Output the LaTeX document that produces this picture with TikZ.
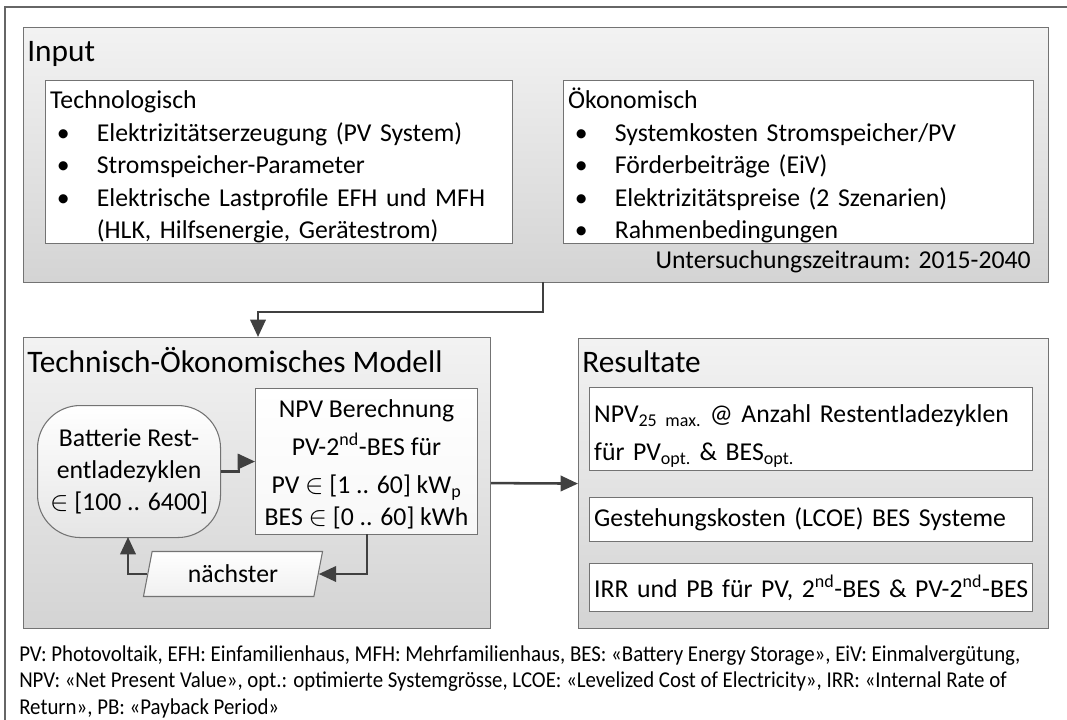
\documentclass[tikz,border=0pt]{standalone}
\usepackage{fontspec}
\setmainfont{Carlito}
\newfontfamily\notefont[FakeStretch=0.92]{Carlito}
\usepackage{tikz}
\usetikzlibrary{positioning,arrows.meta,shapes.geometric,calc}

\def\pxu{0.75pt}
\newcommand{\bul}{\hspace*{5pt}\makebox[30pt][l]{\textbullet}}
\newcommand{\topgap}[1]{\rule{0pt}{#1}}
\newcommand{\botgap}[1]{\rule[-#1]{0pt}{#1}}

\begin{document}
\begin{tikzpicture}[
    x=0.75pt, y=-0.75pt,
    >={Triangle[length=13pt,width=11.5pt]},
    flow/.style={->, draw=black!75, line width=1.9pt},
    group/.style={rectangle, draw=black!55, line width=0.9pt, top color=black!5, bottom color=black!17, anchor=north west, inner sep=0pt},
    grptitle/.style={anchor=base west, inner sep=0pt, font=\fontsize{23.5}{28}\selectfont},
    listbox/.style={rectangle, draw=black!55, line width=0.8pt, fill=white, anchor=north west, inner xsep=3.5pt, inner ysep=0pt, align=left, font=\fontsize{19.3}{24.4}\selectfont},
    calcbox/.style={rectangle, draw=black!55, line width=0.8pt, top color=white, bottom color=black!3, anchor=north west, inner sep=0pt, align=center, font=\fontsize{19.3}{24.4}\selectfont},
    loopbox/.style={rectangle, rounded corners=32pt, draw=black!55, line width=0.8pt, top color=white, bottom color=black!10, anchor=north west, inner sep=0pt, align=center, font=\fontsize{19.3}{24}\selectfont},
    iobox/.style={trapezium, trapezium left angle=75, trapezium right angle=105, trapezium stretches=true, draw=black!55, line width=0.8pt, top color=white, bottom color=black!6, inner sep=0pt, font=\fontsize{19.3}{24.4}\selectfont},
    body/.style={inner sep=0pt, font=\fontsize{19.3}{24.4}\selectfont}
]
\useasboundingbox (0,0) rectangle (1067,720);
% frame
\draw[black!60, line width=0.8pt] (1067,7) -- (5,7) -- (5,720);

% === Input ===
\node[group, minimum width=1025*\pxu, minimum height=255*\pxu] (input) at (23,27) {};
\node[grptitle] (inputtitle) at (27,62) {Input};
\node[listbox, minimum width=465*\pxu, minimum height=163*\pxu, text width=458*\pxu] (tech) at (45,80) {%
\topgap{21pt}Technologisch\\
\bul Elektrizitätserzeugung (PV System)\\
\bul Stromspeicher-Parameter\\
\bul Elektrische Lastprofile EFH und MFH\\
\hspace*{35pt}(HLK, Hilfsenergie, Gerätestrom)\botgap{3.7pt}};
\node[listbox, minimum width=468*\pxu, minimum height=163*\pxu, text width=461*\pxu] (econ) at (563,80) {%
\topgap{21pt}Ökonomisch\\
\bul Systemkosten Stromspeicher/PV\\
\bul Förderbeiträge (EiV)\\
\bul Elektrizitätspreise (2 Szenarien)\\
\bul Rahmenbedingungen\botgap{3.7pt}};
\node[body, anchor=base east] (period) at (1031,268) {Untersuchungszeitraum: 2015-2040};

% === Modell ===
\node[group, minimum width=467*\pxu, minimum height=291*\pxu] (model) at (23,337) {};
\node[grptitle] (modeltitle) at (27,372) {Technisch-Ökonomisches Modell};
\node[loopbox, minimum width=183*\pxu, minimum height=132*\pxu] (batt) at (37,405) {%
Batterie Rest-\\entladezyklen\\$\in$ [100 .. 6400]};
\node[calcbox, minimum width=222*\pxu, minimum height=146*\pxu] (npv) at (255,388) {%
\topgap{21.7pt}NPV Berechnung\\[4.1pt]
PV-2\textsuperscript{nd}-BES für\\[4.1pt]
PV $\in$ [1 .. 60] kW\textsubscript{p}\\[-0.4pt]
BES $\in$ [0 .. 60] kWh\botgap{6.7pt}};
\node[iobox, minimum width=180*\pxu, minimum height=45*\pxu] (next) at (233,574) {nächster};

\coordinate (npvdown) at (367,534);
\coordinate (battin) at (128,537);
\draw[flow] (batt.east) -- ++(18,0) |- (npv.west);
\draw[flow] (npvdown) |- (next.east);
\draw[flow] (next.west) -| (battin);

% === Resultate ===
\node[group, minimum width=470*\pxu, minimum height=290*\pxu] (result) at (578,338) {};
\node[grptitle] (resulttitle) at (582,372) {Resultate};
\node[listbox, minimum width=441*\pxu, minimum height=83*\pxu, text width=434*\pxu, font=\fontsize{19.3}{28.5}\selectfont] (resA) at (589,387) {%
\topgap{26pt}NPV\textsubscript{25 max.} @ Anzahl Restentladezyklen\\
für PV\textsubscript{opt.} \& BES\textsubscript{opt.}\botgap{7.5pt}};
\node[listbox, minimum width=441*\pxu, minimum height=44*\pxu, text width=434*\pxu] (resB) at (589,497) {%
Gestehungskosten (LCOE) BES Systeme};
\node[listbox, minimum width=441*\pxu, minimum height=48*\pxu, text width=434*\pxu] (resC) at (589,563) {%
IRR und PB für PV, 2\textsuperscript{nd}-BES \& PV-2\textsuperscript{nd}-BES};

% connections
\coordinate (inpout) at (543,282);
\coordinate (modin) at (258,337);
\draw[flow] (inpout) -- ++(0,30) -| (modin);
\draw[flow] (model.east) -- (result.west);

% legend
\node[anchor=north west, inner sep=0pt, align=left, font=\notefont\fontsize{17}{20}\selectfont] (legend) at (19,645) {%
PV: Photovoltaik, EFH: Einfamilienhaus, MFH: Mehrfamilienhaus, BES: «Battery Energy Storage», EiV: Einmalvergütung,\\
NPV: «Net Present Value», opt.: optimierte Systemgrösse, LCOE: «Levelized Cost of Electricity», IRR: «Internal Rate of\\
Return», PB: «Payback Period»};
\end{tikzpicture}
\end{document}
